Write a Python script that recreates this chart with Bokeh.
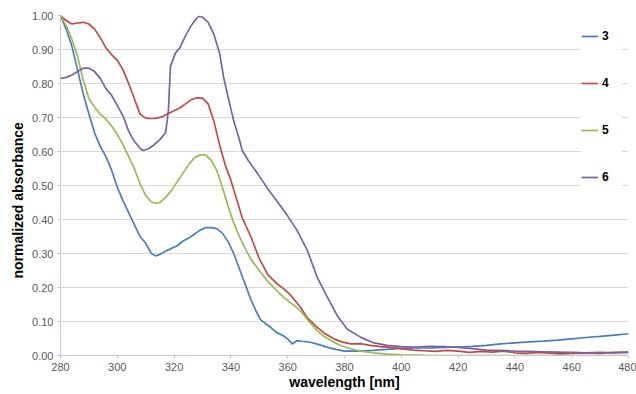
from bokeh.plotting import figure
from bokeh.models import Legend, LegendItem, NumeralTickFormatter, FixedTicker, Range1d, Title
from bokeh.embed import file_html
from bokeh.resources import INLINE

# ---- data ----
wl3 = [280, 282, 284, 286, 288, 290, 292, 294, 296, 298, 300, 302, 304, 306, 308, 310, 312,
       313.5, 315, 317, 319, 321, 323, 325, 327, 329, 331, 333, 335, 337, 339, 341, 343, 345, 347, 349,
       350.5, 352, 354, 356, 358.5, 360, 361.6, 363.3, 365, 368, 371, 374, 377, 380,
       385, 390, 395, 400, 405, 410, 415, 420, 425, 430, 435, 440, 445, 450, 455, 460, 465, 470, 475, 480]
abs3 = [1.00, 0.96, 0.91, 0.84, 0.77, 0.71, 0.655, 0.615, 0.585, 0.545, 0.495, 0.455, 0.42, 0.385, 0.35, 0.33, 0.30,
        0.293, 0.297, 0.307, 0.315, 0.322, 0.336, 0.345, 0.356, 0.368, 0.376, 0.376, 0.373, 0.36, 0.335, 0.30, 0.255, 0.21, 0.165, 0.128,
        0.105, 0.095, 0.083, 0.068, 0.058, 0.048, 0.034, 0.044, 0.042, 0.039, 0.032, 0.024, 0.018, 0.013,
        0.013, 0.015, 0.018, 0.021, 0.022, 0.022, 0.024, 0.025, 0.027, 0.03, 0.034, 0.037, 0.04, 0.042, 0.045, 0.049, 0.053, 0.056, 0.06, 0.064]

wl4 = [280, 282, 284, 286, 288, 290, 292, 294, 296, 298, 300, 302, 304, 306, 308, 310, 312, 314, 316, 318,
       320, 322, 324, 326, 328, 330, 332, 334, 336, 338, 340, 342, 344,
       347, 350, 353, 356, 358.6, 361, 364.5, 367, 370.4, 373, 376.3, 379, 382.3, 385.6, 389, 392, 396,
       400, 404, 408, 412, 416, 420, 424, 428, 432, 436, 440, 444, 448, 452, 456, 460, 465, 470, 475, 480]
abs4 = [1.00, 0.985, 0.975, 0.978, 0.98, 0.975, 0.96, 0.935, 0.905, 0.885, 0.868, 0.84, 0.80, 0.755, 0.71, 0.698, 0.697, 0.698, 0.703, 0.712,
        0.72, 0.728, 0.74, 0.752, 0.758, 0.757, 0.74, 0.69, 0.62, 0.56, 0.515, 0.46, 0.405,
        0.35, 0.285, 0.238, 0.213, 0.196, 0.178, 0.142, 0.11, 0.083, 0.065, 0.049, 0.04, 0.034, 0.035, 0.03, 0.027, 0.024,
        0.02, 0.016, 0.014, 0.012, 0.015, 0.013, 0.009, 0.012, 0.01, 0.013, 0.008, 0.006, 0.009, 0.007, 0.005, 0.006, 0.008, 0.006, 0.009, 0.01]

wl5 = [280, 282, 284, 286, 288, 290, 292, 294, 296, 298, 300, 302, 304, 306, 308, 310, 312,
       313.5, 315, 317, 319, 321, 323, 325, 327, 329, 331, 333, 335, 337, 339, 341, 343, 345, 347,
       350, 352.8, 355, 358.6, 361, 364.5, 367, 370.4, 373, 376.3, 379, 382.3, 385.6,
       390, 395, 400, 405, 410, 420, 440, 460, 480]
abs5 = [1.00, 0.97, 0.93, 0.88, 0.81, 0.755, 0.73, 0.71, 0.695, 0.675, 0.65, 0.62, 0.585, 0.55, 0.505, 0.47, 0.452,
        0.447, 0.45, 0.465, 0.485, 0.51, 0.535, 0.56, 0.58, 0.59, 0.59, 0.575, 0.545, 0.495, 0.44, 0.39, 0.35, 0.315, 0.284,
        0.25, 0.22, 0.2, 0.171, 0.155, 0.132, 0.105, 0.073, 0.055, 0.039, 0.028, 0.02, 0.013,
        0.008, 0.004, 0.002, 0.001, 0.0, 0.0, 0.0, 0.0, 0.0]

wl6 = [280, 282, 284, 286, 288, 290, 292, 294, 296, 298, 300, 302, 304, 306, 308,
       309, 311, 313, 315, 317, 318, 318.7, 320.5,
       322, 324, 326, 328, 329, 330, 332, 334, 336, 337.4, 339, 341, 343, 344, 346, 349.4, 353, 357.5, 360,
       363.3, 366.9, 370.4, 374, 377.4, 380.9, 385.6, 390,
       395, 400, 405, 410, 415, 420, 425, 430, 435, 440, 445, 450, 455, 460, 465, 470, 475, 480]
abs6 = [0.815, 0.818, 0.825, 0.835, 0.845, 0.845, 0.835, 0.815, 0.785, 0.765, 0.735, 0.705, 0.66, 0.63, 0.61,
        0.603, 0.608, 0.62, 0.635, 0.655, 0.72, 0.85, 0.89,
        0.905, 0.94, 0.97, 0.993, 0.998, 0.995, 0.98, 0.945, 0.89, 0.82, 0.76, 0.69, 0.635, 0.603, 0.575, 0.535, 0.49, 0.44, 0.41,
        0.368, 0.309, 0.23, 0.171, 0.118, 0.078, 0.054, 0.038,
        0.03, 0.026, 0.025, 0.027, 0.026, 0.024, 0.02, 0.016, 0.015, 0.013, 0.012, 0.011, 0.01, 0.009, 0.008, 0.009, 0.008, 0.009]

series_names = ["3", "4", "5", "6"]
series_colors = ["#4a7ebb", "#be4b48", "#98b954", "#7d60a0"]
x_ticks = [280, 300, 320, 340, 360, 380, 400, 420, 440, 460, 480]
y_ticks = [0.0, 0.1, 0.2, 0.3, 0.4, 0.5, 0.6, 0.7, 0.8, 0.9, 1.0]

FONT = "Liberation Sans"

p = figure(width=636, height=394, output_backend="svg", toolbar_location=None,
           x_range=Range1d(280, 480), y_range=Range1d(0, 1.0),
           min_border_left=60, min_border_right=8, min_border_top=15, min_border_bottom=39)
p.outline_line_color = None
p.background_fill_color = "white"
p.border_fill_color = "white"

p.xgrid.grid_line_color = None
p.ygrid.grid_line_color = "#d9d9d9"
p.ygrid.grid_line_width = 1.2

p.xaxis.ticker = FixedTicker(ticks=x_ticks)
p.yaxis.ticker = FixedTicker(ticks=y_ticks)
p.yaxis.formatter = NumeralTickFormatter(format="0.00")

for ax in (p.xaxis, p.yaxis):
    ax.axis_line_color = "#c8c8c8"
    ax.major_tick_line_color = "#c8c8c8"
    ax.major_tick_in = 0
    ax.major_tick_out = 3
    ax.minor_tick_line_color = None
    ax.major_label_text_font = FONT
    ax.major_label_text_font_size = "11px"
    ax.major_label_text_color = "#595959"
    ax.axis_label_text_font = FONT
    ax.axis_label_text_font_style = "bold"
    ax.axis_label_text_font_size = "14px"
    ax.axis_label_text_color = "#000000"

p.xaxis.axis_label = "wavelength [nm]"
p.xaxis.major_label_standoff = 4
p.xaxis.axis_label_standoff = 0
p.yaxis.major_label_standoff = 4

ytitle = Title(text="normalized absorbance", align="left", offset=77,
               text_font=FONT, text_font_style="bold", text_font_size="14px",
               text_color="#000000", standoff=7)
p.add_layout(ytitle, "left")

xs = [wl3, wl4, wl5, wl6]
ys = [abs3, abs4, abs5, abs6]
items = []
for name, col, x, y in zip(series_names, series_colors, xs, ys):
    r = p.line(x, y, line_color=col, line_width=1.7)
    items.append(LegendItem(label=name, renderers=[r]))

legend = Legend(items=items, location=(521, 168))
legend.glyph_width = 17
legend.glyph_height = 20
legend.label_height = 20
legend.spacing = 27
legend.padding = 10
legend.margin = 0
legend.label_standoff = 4
legend.label_text_font = FONT
legend.label_text_font_style = "bold"
legend.label_text_font_size = "12px"
legend.label_text_color = "#000000"
legend.border_line_color = None
legend.background_fill_color = "white"
legend.background_fill_alpha = 1.0
p.add_layout(legend, "center")

open("out.html", "w").write(file_html(p, INLINE))
